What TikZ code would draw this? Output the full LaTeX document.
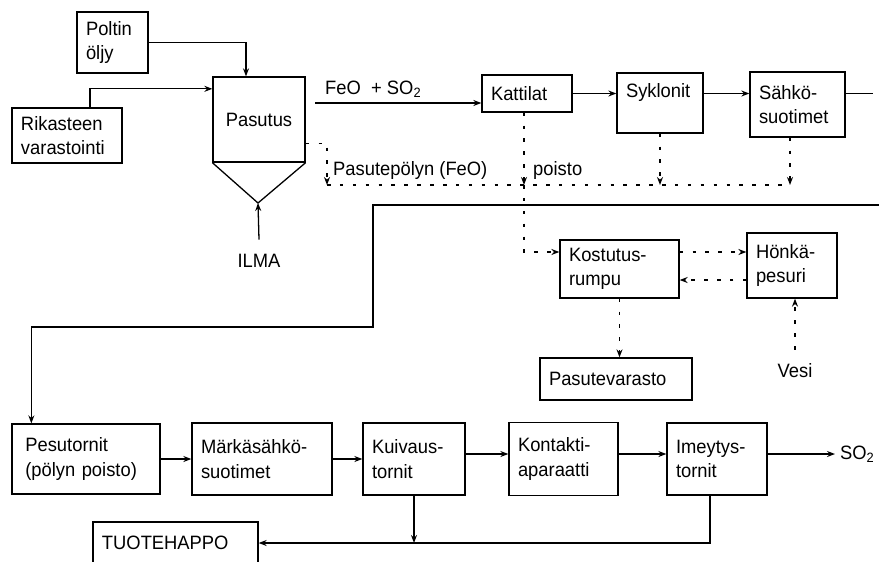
\documentclass[tikz,border=0pt]{standalone}
\usepackage{fontspec}
\setmainfont[FakeStretch=0.95]{Liberation Sans}
\usetikzlibrary{arrows.meta,positioning,calc}
\tikzset{
  laatikko/.style={rectangle, draw, line width=1.1pt, align=left, inner xsep=0.27cm,
                   font=\fontsize{16.5}{21}\selectfont},
  teksti/.style={inner sep=0pt, font=\fontsize{16.5}{21}\selectfont},
  viiva/.style={line width=1.1pt},
  nuoli/.style={-{Stealth[length=2.4mm,width=1.8mm]}, line width=1.1pt},
  katko/.style={line width=1.1pt, dash pattern=on 3pt off 8pt},
}

\begin{document}
\begin{tikzpicture}[x=0.03cm, y=-0.03cm]
  \path[use as bounding box, clip] (0,0) rectangle (879,561);
  \fill[white] (0,0) rectangle (879,561);
  \node[laatikko, text width=1.59cm, minimum height=1.83cm] (poltin) at (112.5,42.5) {Poltin\\öljy};
  \node[laatikko, text width=2.76cm, minimum height=1.65cm] (rikaste) at (67,135.5) {Rikasteen\\varastointi};
  \node[laatikko, text width=2.22cm, minimum height=2.55cm, align=center] (pasutus) at (259,119.5) {Pasutus};
  \node[laatikko, text width=2.16cm, minimum height=1.11cm] (kattilat) at (527,93.5) {Kattilat};
  \node[laatikko, text width=2.04cm, minimum height=1.8cm] (syklonit) at (660,103) {Syklonit\\\mbox{}};
  \node[laatikko, text width=2.31cm, minimum height=1.95cm] (sahko) at (797.5,104.5) {Sähkö-\\suotimet};
  \node[laatikko, text width=3.03cm, minimum height=1.74cm] (kostutus) at (619.5,269) {Kostutus-\\rumpu};
  \node[laatikko, text width=2.16cm, minimum height=1.95cm] (honka) at (792,265.5) {Hönkä-\\pesuri};
  \node[laatikko, text width=4.02cm, minimum height=1.26cm] (pasutevarasto) at (616,379) {Pasutevarasto};
  \node[laatikko, text width=3.9cm, minimum height=2.1cm, inner xsep=0.4cm, text width=3.64cm] (pesutornit) at (86,459) {Pesutornit\\(pölyn poisto)};
  \node[laatikko, text width=3.66cm, minimum height=2.16cm] (marka) at (262,459) {Märkäsähkö-\\suotimet};
  \node[laatikko, text width=2.52cm, minimum height=2.16cm] (kuivaus) at (414,459) {Kuivaus-\\tornit};
  \node[laatikko, text width=2.73cm, minimum height=2.19cm] (kontakti) at (563.5,459) {Kontakti-\\aparaatti};
  \node[laatikko, text width=2.46cm, minimum height=2.16cm] (imeytys) at (717,459) {Imeytys-\\tornit};
  \node[laatikko, text width=4.41cm, minimum height=1.26cm] (tuotehappo) at (175.5,543) {TUOTEHAPPO};

  \node[teksti, anchor=base, outer sep=0.42cm] (ilma) at (259,267) {ILMA};
  \node[teksti, anchor=base west] (kaasuteksti) at (325,94) {FeO\ \ + SO\textsubscript{2}};
  \node[teksti, anchor=base west] (polyteksti) at (333,175) {Pasutepölyn (FeO)};
  \node[teksti, anchor=base west] (poisto) at (533,175) {poisto};
  \node[teksti, anchor=base, outer sep=0.4cm] (vesi) at (795,377) {Vesi};
  \node[teksti, anchor=west, outer sep=0.15cm] (so2) at (835,454) {SO\textsubscript{2}};

  \coordinate (kartio) at (258,203);
  \coordinate (kaasu) at (315,103);
  \coordinate (jatko) at (873,93.5);
  \coordinate (paluu) at (879,205);
  \coordinate (pk) at (327,185);
  \coordinate (kk) at (524,185);
  \coordinate (ek) at (790,185);

  \draw[viiva] (pasutus.south west) -- (kartio) -- (pasutus.south east);
  \draw[nuoli] (ilma.north) -- (kartio);
  \draw[nuoli] (poltin.east) -| ([xshift=-0.39cm]pasutus.north);
  \draw[nuoli] ([xshift=0.69cm]rikaste.north) |- ([yshift=0.92cm]pasutus.west);
  \draw[nuoli] (kaasu) -- (kattilat.west |- kaasu);
  \draw[nuoli] (kattilat.east) -- (syklonit.west |- kattilat);
  \draw[nuoli] (syklonit.east |- kattilat) -- (sahko.west |- kattilat);
  \draw[viiva] (sahko.east |- kattilat) -- (jatko);
  \draw[nuoli] (paluu) -| (373,327) -| ([xshift=0.6cm]pesutornit.north west);

  \draw[katko] (pk) -- (ek);
  \draw[katko, nuoli] ([yshift=-0.71cm]pasutus.east) -| (pk);
  \draw[katko, nuoli] (kattilat.south -| kk) -- (kk);
  \draw[katko, nuoli] (syklonit.south) -- (syklonit.south |- pk);
  \draw[katko, nuoli] (sahko.south -| ek) -- (ek);
  \draw[katko, nuoli] (kk) |- ([yshift=0.51cm]kostutus.west);
  \draw[katko, nuoli] ([yshift=0.51cm]kostutus.east) -- ([yshift=0.51cm]kostutus.east -| honka.west);
  \draw[katko, nuoli] ([yshift=-0.435cm]honka.west) -- ([yshift=-0.435cm]honka.west -| kostutus.east);
  \draw[katko, nuoli] (kostutus.south) -- (pasutevarasto.north -| kostutus.south);
  \draw[katko, nuoli] (vesi.north) -- (vesi.north |- honka.south);

  \draw[nuoli] (pesutornit.east) -- (marka.west);
  \draw[nuoli] (marka.east) -- (kuivaus.west);
  \draw[nuoli] (kuivaus.east |- so2) -- (kontakti.west |- so2);
  \draw[nuoli] (kontakti.east |- so2) -- (imeytys.west |- so2);
  \draw[nuoli] (imeytys.east |- so2) -- (so2.west);
  \draw[nuoli] ([xshift=-0.21cm]imeytys.south) |- (tuotehappo.east);
  \draw[nuoli] (kuivaus.south) -- (kuivaus.south |- tuotehappo.east);
\end{tikzpicture}
\end{document}
